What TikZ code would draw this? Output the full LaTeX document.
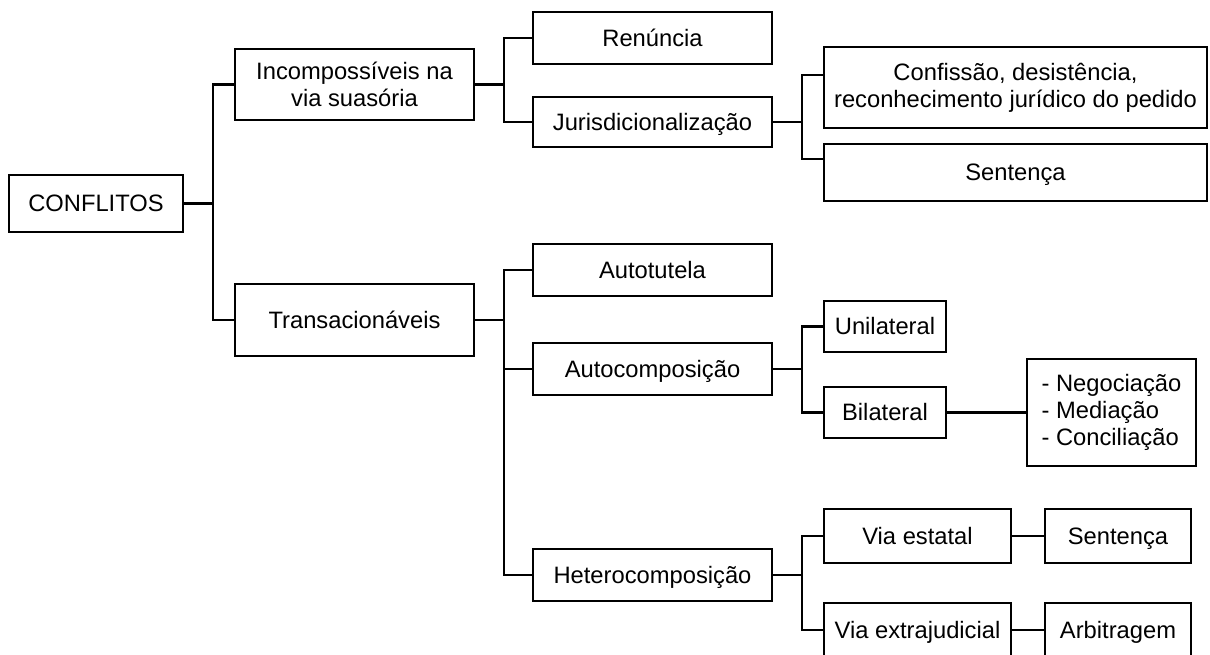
\documentclass[tikz,border=0pt]{standalone}
\usepackage{fontspec}
\setmainfont{Liberation Sans}
\begin{document}
\begin{tikzpicture}[x=0.75pt,y=-0.75pt,
  bx/.style={draw,line width=1.6pt,inner sep=0pt,font=\fontsize{17.8}{20.5}\selectfont,align=center},
  one/.style={text height=13pt,text depth=0.3pt},
  ln/.style={line width=1.6pt}]
\useasboundingbox (0,0) rectangle (1210,655);
\fill[white] (0,0) rectangle (1210,655);
% nodes
\node[bx,one,minimum width=174*0.75pt,minimum height=57*0.75pt] (conf) at (96,203.5) {CONFLITOS};
\node[bx,minimum width=239*0.75pt,minimum height=71*0.75pt] (inc) at (354.5,84.5) {Incompossíveis na\\via suasória};
\node[bx,one,minimum width=239*0.75pt,minimum height=72*0.75pt] (tra) at (354.5,320) {Transacionáveis};
\node[bx,one,minimum width=239*0.75pt,minimum height=52*0.75pt] (ren) at (652.5,38) {Renúncia};
\node[bx,one,minimum width=239*0.75pt,minimum height=50*0.75pt] (jur) at (652.5,122) {Jurisdicionalização};
\node[bx,minimum width=383*0.75pt,minimum height=81*0.75pt] (cds) at (1015.5,87.5) {Confissão, desistência,\\reconhecimento jurídico do pedido};
\node[bx,one,minimum width=383*0.75pt,minimum height=57*0.75pt] (sen) at (1015.5,172.5) {Sentença};
\node[bx,one,minimum width=239*0.75pt,minimum height=52*0.75pt] (aut) at (652.5,270) {Autotutela};
\node[bx,one,minimum width=239*0.75pt,minimum height=52*0.75pt] (acp) at (652.5,369) {Autocomposição};
\node[bx,one,minimum width=239*0.75pt,minimum height=52*0.75pt] (het) at (652.5,575) {Heterocomposição};
\node[bx,one,minimum width=122*0.75pt,minimum height=51*0.75pt] (uni) at (885,326.5) {Unilateral};
\node[bx,one,minimum width=122*0.75pt,minimum height=51*0.75pt] (bil) at (885,412.5) {Bilateral};
\node[bx,minimum width=169*0.75pt,minimum height=107*0.75pt,align=left] (neg) at (1111.5,412.5) {- Negociação\\- Mediação\\- Conciliação};
\node[bx,one,minimum width=187*0.75pt,minimum height=54*0.75pt] (ves) at (917.5,536) {Via estatal};
\node[bx,one,minimum width=146*0.75pt,minimum height=54*0.75pt] (se2) at (1118,536) {Sentença};
\node[bx,one,minimum width=187*0.75pt,minimum height=54*0.75pt] (vex) at (917.5,630) {Via extrajudicial};
\node[bx,one,minimum width=146*0.75pt,minimum height=54*0.75pt] (arb) at (1118,630) {Arbitragem};
% junction coordinates
\coordinate (j0) at (213,203.5);
\coordinate (j1) at (504,84.5);
\coordinate (j2) at (504,320);
\coordinate (j3) at (802,122);
\coordinate (j4) at (802,369);
\coordinate (j5) at (802,575);
\coordinate (cin) at (824,75);
\coordinate (sin) at (824,159);
% connectors
\draw[ln] (conf.east) -- (j0);
\draw[ln] (inc.west) -| (j0) |- (tra.west);
\draw[ln] (inc.east) -- (j1);
\draw[ln] (ren.west) -| (j1) |- (jur.west);
\draw[ln] (jur.east) -- (j3);
\draw[ln] (cin) -| (j3) |- (sin);
\draw[ln] (tra.east) -- (j2);
\draw[ln] (aut.west) -| (j2) |- (het.west);
\draw[ln] (acp.west) -- (acp.west -| j2);
\draw[ln] (acp.east) -- (j4);
\draw[ln] (uni.west) -| (j4) |- (bil.west);
\draw[ln] (bil.east) -- (neg.west);
\draw[ln] (het.east) -- (j5);
\draw[ln] (ves.west) -| (j5) |- (vex.west);
\draw[ln] (ves.east) -- (se2.west);
\draw[ln] (vex.east) -- (arb.west);
\end{tikzpicture}
\end{document}
